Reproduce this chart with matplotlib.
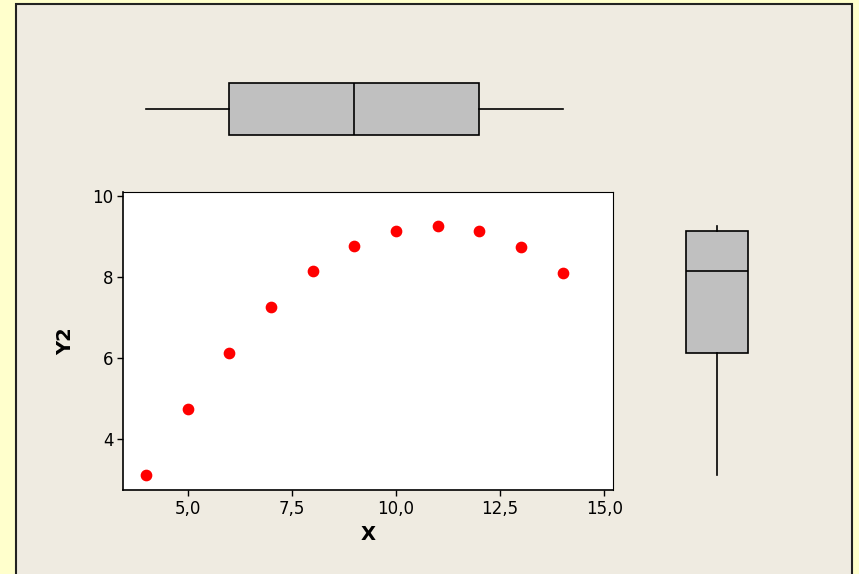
import matplotlib
matplotlib.use('Agg')
import matplotlib.pyplot as plt
from matplotlib.patches import Rectangle
import numpy as np

# datos (Anscombe, serie Y2)
x = [4, 5, 6, 7, 8, 9, 10, 11, 12, 13, 14]
y2 = [3.10, 4.74, 6.13, 7.26, 8.14, 8.77, 9.14, 9.26, 9.13, 8.74, 8.10]
xticks = [5.0, 7.5, 10.0, 12.5, 15.0]
xticklabels = ['5,0', '7,5', '10,0', '12,5', '15,0']
yticks = [4, 6, 8, 10]
yticklabels = ['4', '6', '8', '10']

W, H = 859, 574
fig = plt.figure(figsize=(W / 100, H / 100), dpi=100, facecolor='#FFFFCC')

def px(l, t, r, b):
    # rectangulo en pixeles -> coordenadas de figura
    return [l / W, 1 - b / H, (r - l) / W, (b - t) / H]

# panel de fondo en un eje propio, por debajo de todo
bg = fig.add_axes([0, 0, 1, 1], zorder=-10)
bg.set_xlim(0, W)
bg.set_ylim(H, 0)
bg.axis('off')
bg.add_patch(Rectangle((16, 4), 852 - 16, H + 10, facecolor='#EFEBE1',
                       edgecolor='#222222', lw=1.5))

def stats(v):
    v = np.asarray(v, dtype=float)
    q1, med, q3 = np.percentile(v, [25, 50, 75], method='weibull')
    iqr = q3 - q1
    lo = v[v >= q1 - 1.5 * iqr].min()
    hi = v[v <= q3 + 1.5 * iqr].max()
    return [dict(med=med, q1=q1, q3=q3, whislo=lo, whishi=hi, fliers=[])]

xlim = (3.45, 15.21)
ylim = (2.74, 10.1)
font = 12

# grafico de dispersion
ax = fig.add_axes(px(123, 192, 613, 490))
ax.set_facecolor('white')
ax.scatter(x, y2, s=55, color='#FF0000', zorder=3)
ax.set_xlim(xlim)
ax.set_ylim(ylim)
ax.set_xticks(xticks)
ax.set_xticklabels(xticklabels)
ax.set_yticks(yticks)
ax.set_yticklabels(yticklabels)
ax.tick_params(labelsize=font, length=4, width=1, color='black', pad=3)
ax.spines[['top', 'right']].set_linewidth(0.8)
ax.spines[['left', 'bottom']].set_linewidth(1.2)
ax.set_xlabel('X', fontsize=14, fontweight='bold', labelpad=5)
ax.set_ylabel('Y2', fontsize=14, fontweight='bold', labelpad=12)

boxprops = dict(facecolor='#C0C0C0', edgecolor='black', linewidth=1.2)
lineprops = dict(color='black', linewidth=1.2)

# boxplot horizontal de X
axt = fig.add_axes(px(123, 59, 613, 159))
axt.bxp(stats(x), positions=[0.5], widths=0.52, orientation='horizontal',
        patch_artist=True, showcaps=False, boxprops=boxprops,
        medianprops=lineprops, whiskerprops=lineprops)
axt.set_xlim(xlim)
axt.set_ylim(0, 1)
axt.axis('off')

# boxplot vertical de Y2
axr = fig.add_axes(px(667, 192, 767, 490))
axr.bxp(stats(y2), positions=[0.5], widths=0.62, orientation='vertical',
        patch_artist=True, showcaps=False, boxprops=boxprops,
        medianprops=lineprops, whiskerprops=lineprops)
axr.set_ylim(ylim)
axr.set_xlim(0, 1)
axr.axis('off')

fig.savefig('out.png', dpi=100, facecolor=fig.get_facecolor())
